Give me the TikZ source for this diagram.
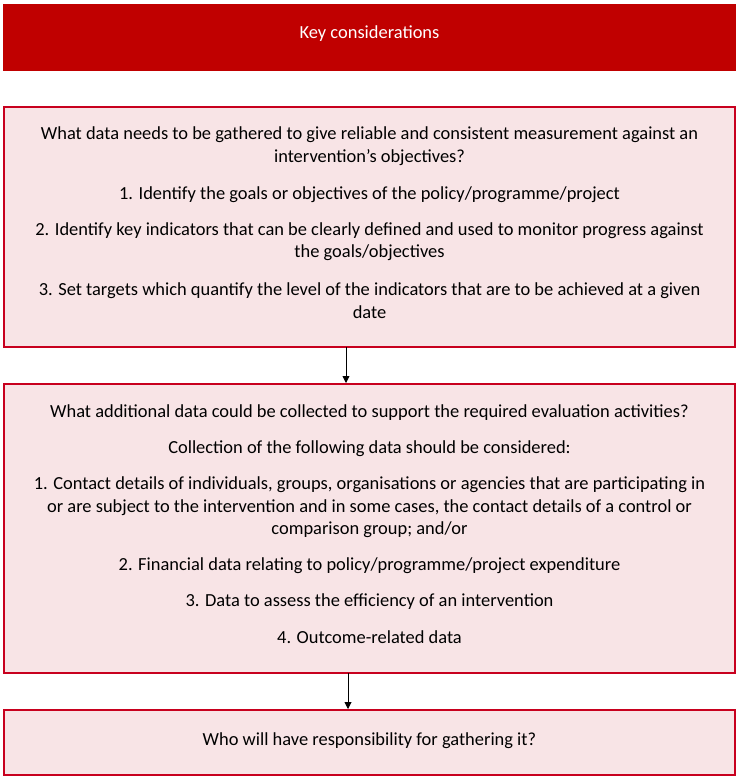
\documentclass[tikz,border=0pt]{standalone}
\usepackage{fontspec}
\setmainfont{Carlito}
\usetikzlibrary{arrows.meta}
\definecolor{hdr}{HTML}{C00000}
\definecolor{bord}{HTML}{C8001E}
\definecolor{pink}{HTML}{F8E4E6}
\tikzset{
  box/.style={draw=bord, line width=2bp, fill=pink},
  para/.style={align=center, font=\fontsize{18.5}{22.5}\selectfont, inner sep=0pt, anchor=center, yshift=-1.8bp},
  conn/.style={-{Triangle[length=7bp,width=7bp]}, line width=0.9bp, black}
}
\begin{document}
\begin{tikzpicture}[x=1bp,y=-1bp]
\useasboundingbox (0,0) rectangle (739,781);
\fill[hdr] (3,4) rectangle (736,71);
\node[para, text=white] (hd) at (369.5,32) {Key considerations};

\draw[box] (4,107) rectangle (735,347);
\coordinate (b1b) at (346,347);
\node[para] (t1) at (369.5,144.5) {What data needs to be gathered to give reliable and consistent measurement against an\\intervention’s objectives?};
\node[para] (t1a) at (369.5,193) {1. Identify the goals or objectives of the policy/programme/project};
\node[para] (t1b) at (369.5,240) {2. Identify key indicators that can be clearly defined and used to monitor progress against\\the goals/objectives};
\node[para] (t1c) at (369.5,299) {3. Set targets which quantify the level of the indicators that are to be achieved at a given\\date};

\draw[box] (4,384) rectangle (735,673);
\coordinate (b2t) at (346,383);
\coordinate (b2b) at (348,673);
\node[para] (t2) at (369.5,411) {What additional data could be collected to support the required evaluation activities?};
\node[para] (t2a) at (369.5,447) {Collection of the following data should be considered:};
\node[para] (t2b) at (369.5,505.5) {1. Contact details of individuals, groups, organisations or agencies that are participating in\\or are subject to the intervention and in some cases, the contact details of a control or\\comparison group; and/or};
\node[para] (t2c) at (369.5,564) {2. Financial data relating to policy/programme/project expenditure};
\node[para] (t2d) at (369.5,600) {3. Data to assess the efficiency of an intervention};
\node[para] (t2e) at (369.5,635) {4. Outcome-related data};

\draw[box] (4,710) rectangle (735,775);
\coordinate (b3t) at (348,709);
\node[para] (t3) at (369.5,739) {Who will have responsibility for gathering it?};

\draw[conn] (b1b) -- (b2t);
\draw[conn] (b2b) -- (b3t);
\end{tikzpicture}
\end{document}
